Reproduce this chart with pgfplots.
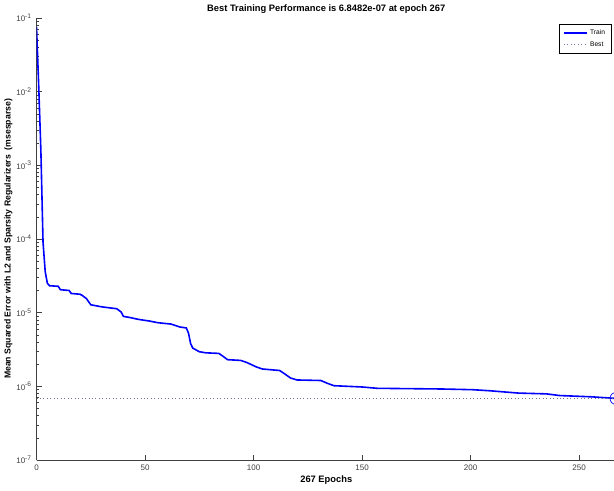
\documentclass[border=0pt]{standalone}
\usepackage{pgfplots}
\pgfplotsset{compat=1.18}
\usepackage{fontspec}
\setmainfont{Liberation Sans}
\definecolor{axgray}{rgb}{0.25,0.25,0.25}
\definecolor{bestc}{rgb}{0.45,0.45,0.6}
\begin{document}
\begin{tikzpicture}
\useasboundingbox (0,0) rectangle (460.5pt,368.25pt);
\begin{axis}[
  at={(27.4pt,23.25pt)}, anchor=south west,
  scale only axis, width=434.6pt, height=331.5pt,
  ymode=log, xmin=0, xmax=267, ymin=1e-7, ymax=1e-1,
  axis x line*=bottom, axis y line*=left,
  axis line style={axgray, line width=0.6pt},
  tick style={axgray, line width=0.4pt},
  tick align=inside,
  major tick length=4pt, minor tick length=2pt,
  xtick={0,50,100,150,200,250},
  ytick={1e-7,1e-6,1e-5,1e-4,1e-3,1e-2,1e-1},
  yticklabels={10\textsuperscript{-7},10\textsuperscript{-6},10\textsuperscript{-5},10\textsuperscript{-4},10\textsuperscript{-3},10\textsuperscript{-2},10\textsuperscript{-1}},
  /pgf/number format/assume math mode=true,
  ticklabel style={font=\fontsize{6}{7}\selectfont, text=axgray},
  title={\bfseries Best Training Performance is 6.8482e-07 at epoch 267},
  title style={font=\fontsize{7}{8}\selectfont, anchor=base, yshift=-1pt},
  xlabel={\bfseries 267 Epochs},
  xlabel style={font=\fontsize{7}{8}\selectfont, yshift=3pt},
  ylabel={\bfseries Mean Squared Error with L2 and Sparsity Regularizers\ \ (msesparse)},
  ylabel style={font=\fontsize{6.5}{7}\selectfont, yshift=-4pt},
  legend style={at={(0.993,0.987)}, anchor=north east, font=\fontsize{5}{6}\selectfont},
  legend cell align=left,
  clip marker paths=true,
]
\addplot[color=blue, line width=1.2pt] coordinates {
(0,0.075) (1,0.012) (2,1.6e-3) (3,9e-5) (4,3.6e-5) (5,2.5e-5) (6,2.32e-5)
(10,2.28e-5) (11,2.05e-5) (15,2.0e-5) (16,1.82e-5) (20,1.78e-5) (21,1.72e-5)
(23,1.55e-5) (25,1.28e-5) (30,1.2e-5) (37,1.13e-5) (39,1.02e-5) (40,8.9e-6)
(43,8.6e-6) (47,8.1e-6) (52,7.7e-6) (56,7.3e-6) (62,7.0e-6) (66,6.4e-6)
(69,6.2e-6) (70,5.3e-6) (71,3.8e-6) (72,3.3e-6) (75,2.95e-6) (78,2.85e-6)
(84,2.8e-6) (86,2.55e-6) (88,2.3e-6) (94,2.25e-6) (97,2.1e-6) (101,1.85e-6)
(104,1.72e-6) (112,1.64e-6) (114,1.5e-6) (117,1.3e-6) (120,1.22e-6)
(131,1.2e-6) (134,1.1e-6) (137,1.02e-6) (150,9.8e-7) (157,9.4e-7)
(187,9.2e-7) (201,9.0e-7) (209,8.7e-7) (222,8.1e-7) (235,7.9e-7)
(241,7.5e-7) (256,7.2e-7) (267,6.8482e-7)
};
\addlegendentry{Train}
\addplot[color=bestc, dotted, line width=0.6pt] coordinates {(0,6.8482e-7) (267,6.8482e-7)};
\addlegendentry{Best}
\addplot[color=blue, only marks, mark=o, mark size=4.5pt, line width=0.5pt, forget plot] coordinates {(267,6.8482e-7)};
\end{axis}
\end{tikzpicture}
\end{document}
